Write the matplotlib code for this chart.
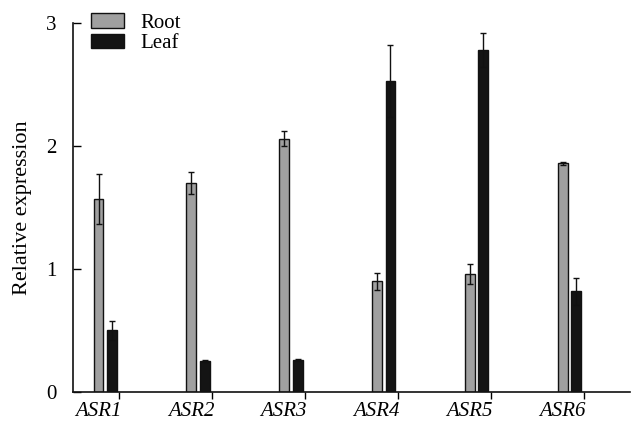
import matplotlib
matplotlib.use("Agg")
import matplotlib.pyplot as plt
import numpy as np

genes = ["ASR1", "ASR2", "ASR3", "ASR4", "ASR5", "ASR6"]
root = [1.57, 1.70, 2.06, 0.90, 0.96, 1.86]
root_err = [0.20, 0.09, 0.06, 0.07, 0.08, 0.01]
leaf = [0.50, 0.25, 0.26, 2.53, 2.78, 0.82]
leaf_err = [0.08, 0.01, 0.01, 0.29, 0.14, 0.11]
yticks = [0, 1, 2, 3]

plt.rcParams['font.family'] = ['Liberation Serif', 'DejaVu Serif']

fig = plt.figure(figsize=(6.35, 4.21), dpi=100)
ax = fig.add_axes([0.115, 0.069, 0.877, 0.876])

x = np.arange(len(genes))
w = 0.105
ax.bar(x - 0.225, root, w, yerr=root_err, color="#a0a0a0", edgecolor="#111111",
       linewidth=1.0, label="Root",
       error_kw=dict(ecolor="#111111", elinewidth=1.0, capsize=2.5, capthick=1.0))
ax.bar(x - 0.08, leaf, w, yerr=leaf_err, color="#141414", edgecolor="#111111",
       linewidth=1.0, label="Leaf",
       error_kw=dict(ecolor="#111111", elinewidth=1.0, capsize=2.5, capthick=1.0))

ax.set_xlim(-0.5, 5.5)
ax.set_ylim(0, 3)
ax.set_xticks(x)
ax.set_xticklabels([])
ax.set_xticks(x - 0.23, labels=genes, minor=True)
for lab in ax.get_xticklabels(minor=True):
    lab.set_fontstyle("italic")
    lab.set_fontsize(15)
ax.tick_params(axis="x", which="minor", length=0, pad=7)
ax.set_yticks(yticks)
ax.set_yticklabels([str(t) for t in yticks], fontsize=15)
ax.tick_params(axis="y", direction="in", length=6, width=1, pad=12)
ax.tick_params(axis="x", which="major", direction="out", length=5, width=1)
for s in ["top", "right"]:
    ax.spines[s].set_visible(False)
for s in ["left", "bottom"]:
    ax.spines[s].set_linewidth(1.2)
    ax.spines[s].set_color("#111111")
ax.set_ylabel("Relative expression", fontsize=16, labelpad=10)

ax.legend(loc="upper left", bbox_to_anchor=(0.017, 1.05), frameon=False,
          fontsize=15, handlelength=1.6, handleheight=0.7, handletextpad=0.8,
          labelspacing=0.05, borderaxespad=0)

fig.savefig("out.png", dpi=100)
